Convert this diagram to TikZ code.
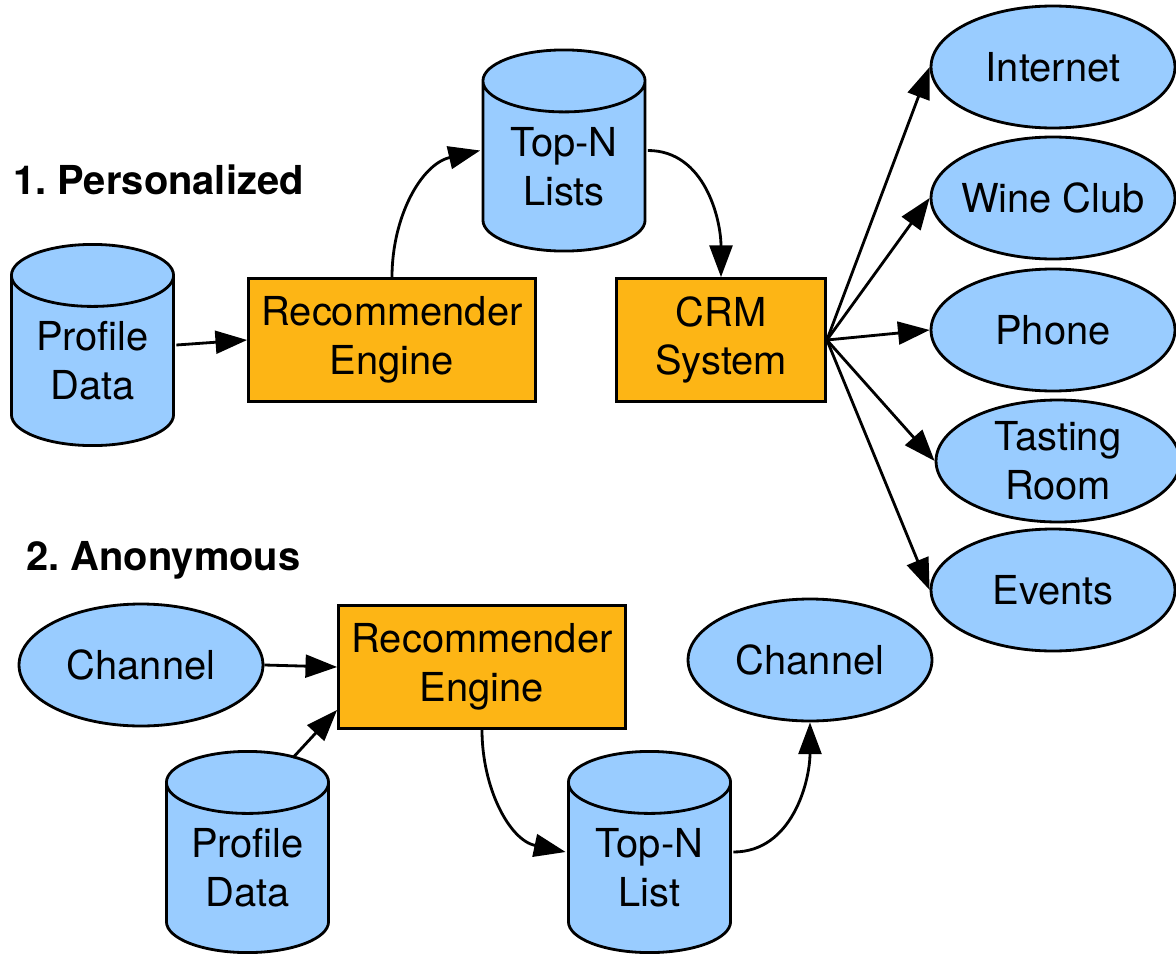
\documentclass[tikz,border=0pt]{standalone}
\usepackage{fontspec}
\setmainfont{TeX Gyre Heros}
\frenchspacing
\usetikzlibrary{shapes.geometric,arrows.meta}
\definecolor{dbblue}{RGB}{153,204,255}
\definecolor{engineorange}{RGB}{253,181,21}
\begin{document}
\begin{tikzpicture}[x=0.02cm,y=-0.02cm,
    line width=1.6pt,
    font=\fontsize{22.7}{27.8}\selectfont,
    db/.style={rectangle,minimum width=3.3cm,minimum height=4.08cm,inner sep=0pt,
      path picture={
        \draw[fill=dbblue]
          ([shift={(.8pt,-.62cm-.8pt)}]path picture bounding box.north west)
          -- ([shift={(.8pt,.62cm+.8pt)}]path picture bounding box.south west)
          arc[start angle=180,end angle=360,x radius=1.65cm-.8pt,y radius=.62cm]
          -- ([shift={(-.8pt,-.62cm-.8pt)}]path picture bounding box.north east)
          arc[start angle=0,end angle=180,x radius=1.65cm-.8pt,y radius=.62cm]
          arc[start angle=180,end angle=360,x radius=1.65cm-.8pt,y radius=.62cm];
      }},
    dbtext/.style={align=center,inner sep=0pt,yshift=-0.32cm},
    engine/.style={rectangle,draw,fill=engineorange,minimum height=2.46cm,
      inner sep=0pt,align=center},
    outlet/.style={ellipse,draw,fill=dbblue,minimum width=4.88cm,
      minimum height=2.44cm,inner xsep=-0.5cm,inner ysep=-0.2cm,align=center},
    title/.style={anchor=west,inner sep=0pt,font=\fontsize{22.7}{27.8}\selectfont\bfseries},
    arrow/.style={-{Triangle[length=18pt,width=13pt]}}]
  \useasboundingbox (0,0) rectangle (1176,953);
  % 1. personalized
  \node[title] (head1) at (12,180) {1. Personalized};
  \node[db,label={[dbtext,name=profile1-text]center:{Profile\\Data}}] (profile1) at (92.5,345) {};
  \node[engine,minimum width=5.74cm] (rec1) at (392,340) {Recommender\\Engine};
  \node[db,label={[dbtext,name=topn1-text]center:{Top-N\\Lists}}] (topn1) at (564,150.5) {};
  \node[engine,minimum width=4.18cm] (crm) at (721,340) {CRM\\System};
  \node[outlet] (internet) at (1053,67) {Internet};
  \node[outlet] (club) at (1053,198) {Wine Club};
  \node[outlet] (phone) at (1053,330) {Phone};
  \node[outlet] (tasting) at (1058,461) {Tasting\\Room};
  \node[outlet] (events) at (1053,590) {Events};
  \draw[arrow] (profile1.east) -- (rec1.west);
  \draw[arrow] (rec1.north) to[out=90,in=193] (topn1.west);
  \draw[arrow] (topn1.east) to[out=0,in=90] (crm.north);
  \draw[arrow] (crm.east) -- (internet.west);
  \draw[arrow] (crm.east) -- (club.west);
  \draw[arrow] (crm.east) -- (phone.west);
  \draw[arrow] (crm.east) -- (tasting.west);
  \draw[arrow] (crm.east) -- (events.west);
  % 2. anonymous
  \node[title] (head2) at (25,560) {2. Anonymous};
  \node[outlet] (chanin) at (141,665) {Channel};
  \node[engine,minimum width=5.74cm] (rec2) at (482,667) {Recommender\\Engine};
  \node[db,label={[dbtext,name=profile2-text]center:{Profile\\Data}}] (profile2) at (247.5,852) {};
  \node[db,label={[dbtext,name=topn2-text]center:{Top-N\\List}}] (topn2) at (649.5,852) {};
  \node[outlet] (chanout) at (810,660) {Channel};
  \draw[arrow] (chanin.east) -- (rec2.west);
  \draw[arrow] ([shift={(45.5,9)}]profile2.north) -- ([shift={(0,-20)}]rec2.south west);
  \draw[arrow] (rec2.south) to[out=-90,in=168] (topn2.west);
  \draw[arrow] (topn2.east) to[out=0,in=-90] (chanout.south);
\end{tikzpicture}
\end{document}
